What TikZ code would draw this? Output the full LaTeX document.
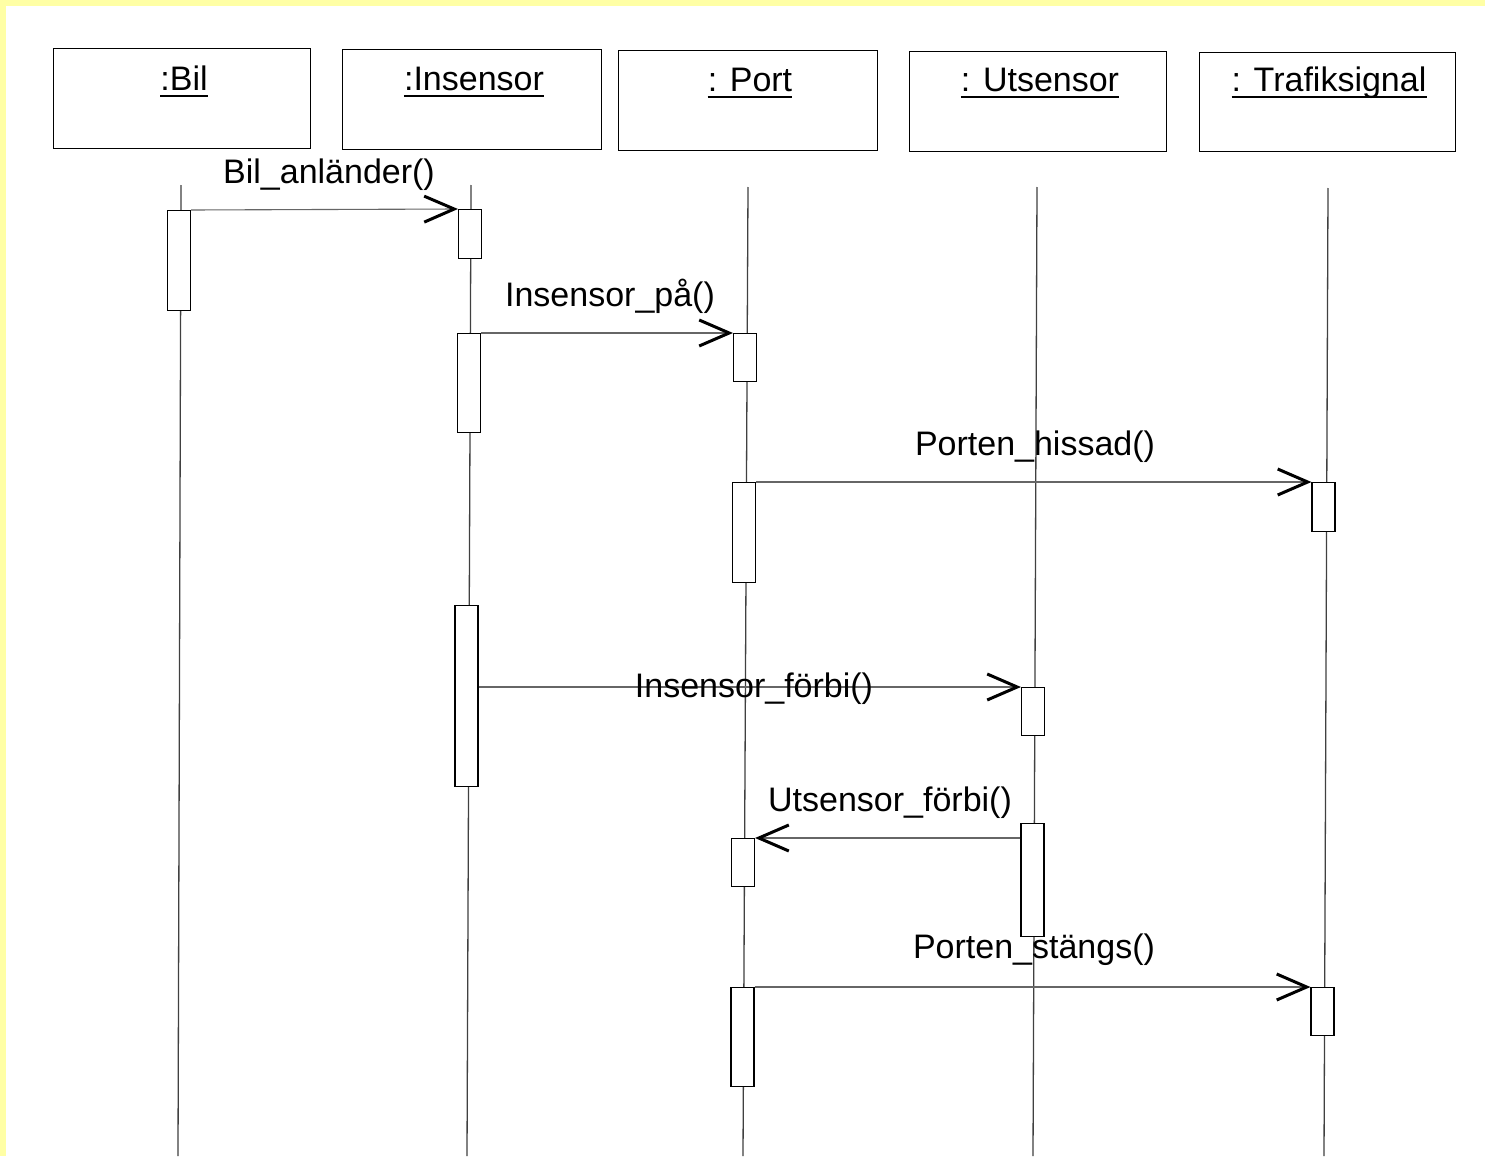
\documentclass[tikz,border=0pt]{standalone}
\usepackage{fontspec}
\setmainfont{Liberation Sans}
\usetikzlibrary{arrows.meta}
\definecolor{paperyellow}{RGB}{255,255,165}
\begin{document}
\begin{tikzpicture}[x=1pt,y=-1pt,
  objbox/.style={draw=black, line width=1.2pt, minimum height=100pt, inner sep=0pt, anchor=north west},
  objname/.style={font=\fontsize{34}{40}\selectfont, anchor=base, inner sep=0pt},
  lifeline/.style={draw=black!75, line width=1.3pt},
  act/.style={draw=black, line width=1.1pt, fill=white, minimum width=23pt, inner sep=0pt, anchor=north},
  msg/.style={draw=black!60, line width=1.1pt, -{Straight Barb[length=30pt,width=26pt,line width=3pt,color=black]}},
  msglabel/.style={font=\fontsize{34}{40}\selectfont, anchor=base, inner sep=0pt},
  uline/.style={line width=1.6pt}
]
% paper and margins
\fill[paperyellow] (0,0) rectangle (1485,1156);
\fill[white] (6,6) rectangle (1485,1156);
\useasboundingbox (0,0) rectangle (1485,1156);

% object boxes
\node[objbox, minimum width=257pt] (bil) at (53,48) {};
\node[objbox, minimum width=259pt] (ins) at (342,49) {};
\node[objbox, minimum width=259pt] (port) at (618,50) {};
\node[objbox, minimum width=257pt] (uts) at (909,51) {};
\node[objbox, minimum width=256pt, minimum height=99pt] (traf) at (1199,52) {};

% object names, underlined
\node[objname] (nbil) at (184,90) {:Bil};
\node[objname] (nins) at (474,90) {:Insensor};
\node[objname] (nport) at (750,91) {: Port};
\node[objname] (nuts) at (1040,91) {: Utsensor};
\node[objname] (ntraf) at (1329,91) {: Trafiksignal};
\foreach \n in {nbil,nins,nport,nuts,ntraf}
  \draw[uline] ([yshift=-6pt]\n.base west) -- ([yshift=-6pt]\n.base east);

% lifelines
\coordinate (bilTop) at (181,185);  \coordinate (bilEnd) at (178,1156);
\coordinate (insTop) at (471,185);  \coordinate (insEnd) at (467,1156);
\coordinate (portTop) at (748,187); \coordinate (portEnd) at (743,1156);
\coordinate (utsTop) at (1037,187); \coordinate (utsEnd) at (1033,1156);
\coordinate (trafTop) at (1328,188); \coordinate (trafEnd) at (1324,1156);
\draw[lifeline] (bilTop) -- (bilEnd);
\draw[lifeline] (insTop) -- (insEnd);
\draw[lifeline] (portTop) -- (portEnd);
\draw[lifeline] (utsTop) -- (utsEnd);
\draw[lifeline] (trafTop) -- (trafEnd);

% activation bars
\node[act, minimum height=100pt] (bilact) at (179,210) {};
\node[act, minimum height=49pt]  (ins1) at (470,209) {};
\node[act, minimum height=99pt]  (ins2) at (469,333) {};
\node[act, minimum height=48pt]  (port1) at (745,333) {};
\node[act, minimum height=100pt] (port2) at (744,482) {};
\node[act, minimum height=49pt]  (traf1) at (1323.5,482) {};
\node[act, minimum height=181pt] (ins3) at (466.5,605) {};
\node[act, minimum height=48pt]  (uts1) at (1033,687) {};
\node[act, minimum height=113pt] (uts2) at (1032.5,823) {};
\node[act, minimum height=48pt]  (port3) at (743,838) {};
\node[act, minimum height=99pt]  (port4) at (742.5,987) {};
\node[act, minimum height=48pt]  (traf2) at (1322.5,987) {};

% messages
\draw[msg] (bilact.north east) -- (ins1.north west);
\draw[msg] (ins2.north east) -- (port1.north west);
\draw[msg] (port2.north east) -- (traf1.north west);
\draw[msg] (ins3.east |- uts1.north) -- (uts1.north west);
\draw[msg] (uts2.west |- port3.north) -- (port3.north east);
\draw[msg] (port4.north east) -- (traf2.north west);

% message labels
\node[msglabel] (l1) at (329,183) {Bil\_anländer()};
\node[msglabel] (l2) at (610,306) {Insensor\_på()};
\node[msglabel] (l3) at (1035,455) {Porten\_hissad()};
\node[msglabel] (l4) at (754,697) {Insensor\_förbi()};
\node[msglabel] (l5) at (890,811) {Utsensor\_förbi()};
\node[msglabel] (l6) at (1034,958) {Porten\_stängs()};
\end{tikzpicture}
\end{document}
